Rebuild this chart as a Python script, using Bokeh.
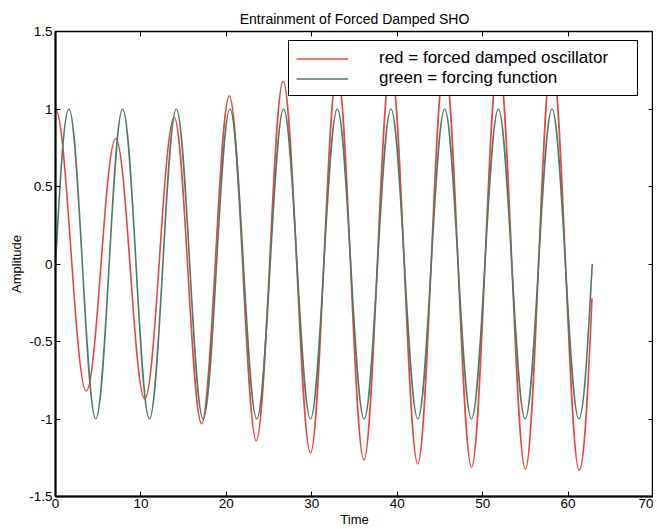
import numpy as np
from bokeh.plotting import figure
from bokeh.models import (Range1d, LinearAxis, FixedTicker, Legend, LegendItem,
                          ColumnDataSource)
from bokeh.embed import file_html
from bokeh.resources import INLINE

# ---------------- data ----------------
title_text = "Entrainment of Forced Damped SHO"
x_label = "Time"
y_label = "Amplitude"

time_ticks = [0, 10, 20, 30, 40, 50, 60, 70]
time_tick_labels = ["0", "10", "20", "30", "40", "50", "60", "70"]
amp_ticks = [-1.5, -1.0, -0.5, 0.0, 0.5, 1.0, 1.5]
amp_tick_labels = ["-1.5", "-1", "-0.5", "0", "0.5", "1", "1.5"]

# red = forced damped oscillator: turning points (time, amplitude) and end point
red_t = [0.0, 3.6, 7.05, 10.45, 13.9, 17.1, 20.35, 23.5, 26.65, 29.85, 32.98,
         36.1, 39.25, 42.4, 45.55, 48.7, 51.85, 55.0, 58.1, 61.3, 62.8]
red_v = [1.0, -0.82, 0.81, -0.87, 0.945, -1.03, 1.085, -1.14, 1.18, -1.22, 1.245,
         -1.265, 1.28, -1.29, 1.30, -1.31, 1.32, -1.325, 1.33, -1.33, -0.22]
red_slope = [0.0] * 20 + [1.3]

# green = forcing function: start, turning points, end
green_t = [0.0, 1.571, 4.712, 7.854, 10.996, 14.137, 17.279, 20.420, 23.562,
           26.704, 29.845, 32.987, 36.128, 39.270, 42.412, 45.553, 48.695,
           51.836, 54.978, 58.119, 61.261, 62.832]
green_v = [0.0, 1, -1, 1, -1, 1, -1, 1, -1, 1, -1, 1, -1, 1, -1, 1, -1, 1, -1, 1, -1, 0.0]
green_slope = [1.0] + [0.0] * 20 + [1.0]

legend_labels = ["red = forced damped oscillator", "green = forcing function"]

FONT = "Liberation Sans"
RED = "#e8473e"
GREEN = "#4a7c66"


def curve_source(t, v, s, f=0.36):
    t = np.asarray(t, float)
    v = np.asarray(v, float)
    s = np.asarray(s, float)
    d = np.diff(t) * f
    return ColumnDataSource(dict(
        x0=t[:-1], y0=v[:-1], x1=t[1:], y1=v[1:],
        cx0=t[:-1] + d, cy0=v[:-1] + d * s[:-1],
        cx1=t[1:] - d, cy1=v[1:] - d * s[1:],
    ))


p = figure(width=653, height=529,
           x_range=Range1d(0, 70), y_range=Range1d(-1.5, 1.5),
           output_backend="svg", toolbar_location=None,
           title=title_text, x_axis_label=x_label, y_axis_label=y_label,
           min_border_left=55, min_border_right=0, min_border_top=31,
           min_border_bottom=30)

p.background_fill_color = "white"
p.border_fill_color = "white"
p.xgrid.visible = False
p.ygrid.visible = False
p.outline_line_color = "black"
p.outline_line_width = 1.5
p.outline_line_alpha = 1.0

p.title.text_font = FONT
p.title.text_font_size = "14px"
p.title.text_font_style = "normal"
p.title.align = "center"
p.title.standoff = 10
p.title.text_color = "black"

p.xaxis.ticker = FixedTicker(ticks=time_ticks)
p.xaxis.major_label_overrides = {t: l for t, l in zip(time_ticks, time_tick_labels)}
p.yaxis.ticker = FixedTicker(ticks=amp_ticks)
p.yaxis.major_label_overrides = {t: l for t, l in zip(amp_ticks, amp_tick_labels)}

for ax in (p.xaxis[0], p.yaxis[0]):
    ax.major_tick_in = 5
    ax.major_tick_out = 0
    ax.minor_tick_line_color = None
    ax.axis_line_color = "black"
    ax.axis_line_width = 2
    ax.major_tick_line_color = "black"
    ax.major_label_text_font = FONT
    ax.major_label_text_font_size = "13.5px"
    ax.major_label_text_color = "black"
    ax.axis_label_text_font = FONT
    ax.axis_label_text_font_size = "13px"
    ax.axis_label_text_font_style = "normal"
    ax.axis_label_text_color = "black"
p.xaxis.major_label_standoff = 2
p.xaxis.axis_label_standoff = 1
p.yaxis.major_label_standoff = 3
p.yaxis.axis_label_standoff = 2

top_ax = LinearAxis(ticker=FixedTicker(ticks=time_ticks), major_label_text_font_size="1px",
                    major_label_text_color=None, major_label_standoff=3,
                    major_tick_in=5, major_tick_out=0,
                    minor_tick_line_color=None, axis_line_color=None)
right_ax = LinearAxis(ticker=FixedTicker(ticks=amp_ticks), major_label_text_font_size="1px",
                      major_label_text_color=None, major_label_standoff=0,
                      major_tick_in=5, major_tick_out=0,
                      minor_tick_line_color=None, axis_line_color=None)
p.add_layout(top_ax, "above")
p.add_layout(right_ax, "right")

r_red = p.bezier(x0="x0", y0="y0", x1="x1", y1="y1", cx0="cx0", cy0="cy0",
                 cx1="cx1", cy1="cy1", source=curve_source(red_t, red_v, red_slope),
                 line_color=RED, line_width=1.6)
r_green = p.bezier(x0="x0", y0="y0", x1="x1", y1="y1", cx0="cx0", cy0="cy0",
                   cx1="cx1", cy1="cy1", source=curve_source(green_t, green_v, green_slope),
                   line_color=GREEN, line_width=1.6)

legend = Legend(items=[LegendItem(label=legend_labels[0], renderers=[r_red]),
                       LegendItem(label=legend_labels[1], renderers=[r_green])],
                location=(233, 400), orientation="vertical",
                border_line_color="black", border_line_width=1.5, border_line_alpha=1.0,
                background_fill_color="white", background_fill_alpha=1.0,
                padding=7, spacing=0, margin=0,
                glyph_width=52, glyph_height=17, label_height=17, label_width=251,
                label_standoff=31, label_text_font=FONT, label_text_font_size="17px",
                label_text_color="black")
p.add_layout(legend)

open("out.html", "w").write(file_html(p, INLINE))
